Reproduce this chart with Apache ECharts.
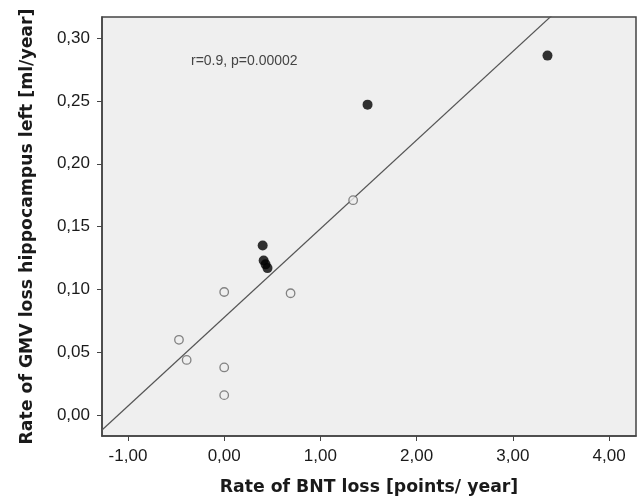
<!DOCTYPE html>
<html lang="en">
<head>
    <meta charset="UTF-8">
    <title>GMV loss vs BNT loss</title>
    <script src="https://cdn.jsdelivr.net/npm/echarts@6.0.0/dist/echarts.min.js"></script>
    <style>
        html, body { margin: 0; padding: 0; background: #fff; }
        #main { width: 638px; height: 502px; }
    </style>
</head>
<body>
    <div id="main"></div>
    <script>
        // filled dots
        var filledX = [0.40, 1.49, 3.36, 0.41, 0.43, 0.45];
        var filledY = [0.135, 0.247, 0.286, 0.123, 0.120, 0.117];
        // open circles
        var openX = [1.34, 0.00, 0.69, -0.47, -0.39, 0.00, 0.00];
        var openY = [0.171, 0.098, 0.097, 0.060, 0.044, 0.038, 0.016];
        // fit line
        var fitSlope = 0.0705;
        var fitIntercept = 0.0778;
        var xTicks = [-1, 0, 1, 2, 3, 4];
        var yTicks = [0, 0.05, 0.10, 0.15, 0.20, 0.25, 0.30];
        var xMin = -1.27, xMax = 4.28;
        var yMin = -0.0165, yMax = 0.3167;

        function pairs(xs, ys) {
            return xs.map(function (x, i) { return [x, ys[i]]; });
        }
        function fmt(v) {
            return v.toFixed(2).replace('.', ',');
        }

        var chart = echarts.init(document.getElementById('main'));
        var axisFont = { color: '#1a1a1a', fontSize: 17, fontFamily: 'Liberation Sans' };
        var titleFont = { color: '#1a1a1a', fontSize: 17.3, fontWeight: 'bold', fontFamily: 'DejaVu Sans' };

        var option = {
            backgroundColor: '#fff',
            animation: false,
            grid: {
                left: 102, top: 17, right: 2, bottom: 66,
                outerBoundsMode: 'none',
                show: true,
                backgroundColor: '#efefef',
                borderColor: '#444',
                borderWidth: 1.5
            },
            xAxis: {
                type: 'value',
                min: xMin, max: xMax,
                name: 'Rate of BNT loss [points/ year]',
                nameLocation: 'middle',
                nameGap: 43,
                nameTextStyle: titleFont,
                splitLine: { show: false },
                axisLine: { show: true, onZero: false, lineStyle: { color: '#444', width: 1.5 } },
                axisTick: { show: true, length: 5, lineStyle: { color: '#444' }, customValues: xTicks },
                axisLabel: Object.assign({ margin: 12, formatter: fmt, customValues: xTicks }, axisFont)
            },
            yAxis: {
                type: 'value',
                min: yMin, max: yMax,
                name: 'Rate of GMV loss hippocampus left [ml/year]',
                nameLocation: 'middle',
                nameGap: 66,
                nameRotate: 90,
                nameTextStyle: titleFont,
                splitLine: { show: false },
                axisLine: { show: true, onZero: false, lineStyle: { color: '#444', width: 1.5 } },
                axisTick: { show: true, length: 5, lineStyle: { color: '#444' }, customValues: yTicks },
                axisLabel: Object.assign({ margin: 12, formatter: fmt, customValues: yTicks }, axisFont)
            },
            graphic: [{
                type: 'text',
                left: 191, top: 54,
                style: { text: 'r=0.9, p=0.00002', fill: '#444', fontSize: 14, fontFamily: 'Liberation Sans' }
            }],
            series: [
                {
                    type: 'line',
                    data: [[xMin, fitIntercept + fitSlope * xMin], [xMax, fitIntercept + fitSlope * xMax]],
                    showSymbol: false,
                    clip: true,
                    lineStyle: { color: '#555', width: 1.2 },
                    z: 1
                },
                {
                    type: 'scatter',
                    data: pairs(openX, openY),
                    symbol: 'circle',
                    symbolSize: 8.5,
                    itemStyle: { color: '#efefef', borderColor: '#666', borderWidth: 1.3 },
                    z: 2
                },
                {
                    type: 'scatter',
                    data: pairs(filledX, filledY),
                    symbol: 'circle',
                    symbolSize: 10,
                    itemStyle: { color: '#000' },
                    z: 3
                }
            ]
        };
        chart.setOption(option);
    </script>
</body>
</html>
